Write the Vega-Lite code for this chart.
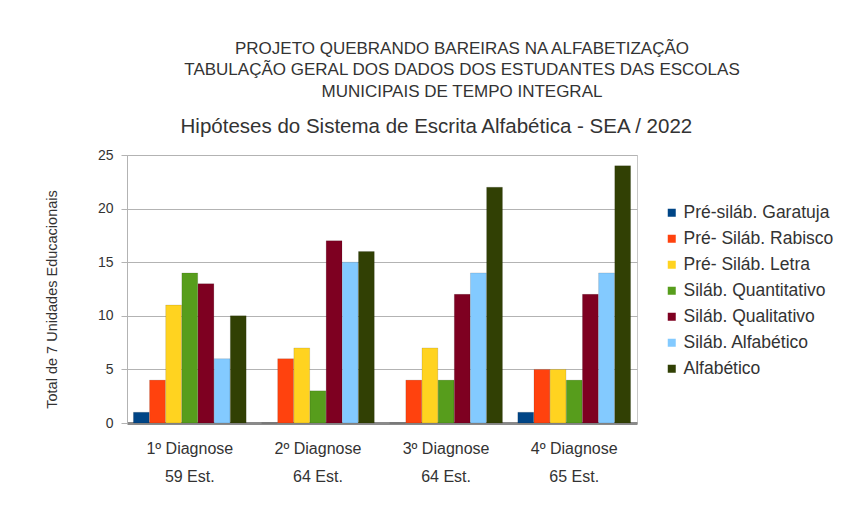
{
  "$schema": "https://vega.github.io/schema/vega-lite/v6.json",
  "autosize": "none",
  "width": 510,
  "height": 268,
  "padding": {"left": 127, "top": 155, "right": 225, "bottom": 92},
  "background": "white",
  "title": {
    "text": ["PROJETO QUEBRANDO BAREIRAS NA ALFABETIZAÇÃO", "TABULAÇÃO GERAL DOS DADOS DOS ESTUDANTES DAS ESCOLAS", "MUNICIPAIS DE TEMPO INTEGRAL"],
    "subtitle": "Hipóteses do Sistema de Escrita Alfabética - SEA / 2022\u00a0\u00a0\u00a0\u00a0\u00a0\u00a0\u00a0\u00a0\u00a0\u200b",
    "anchor": "middle",
    "dx": 80,
    "offset": 10,
    "font": "Liberation Sans",
    "fontSize": 17,
    "fontWeight": "normal",
    "color": "#333333",
    "lineHeight": 21.5,
    "subtitleFont": "Liberation Sans",
    "subtitleFontSize": 20.5,
    "subtitleColor": "#333333",
    "subtitlePadding": 16
  },
  "data": {
    "values": [
      {"g": "1º Diagnose|59 Est.", "s": "Pré-siláb. Garatuja", "v": 1},
      {"g": "1º Diagnose|59 Est.", "s": "Pré- Siláb. Rabisco", "v": 4},
      {"g": "1º Diagnose|59 Est.", "s": "Pré- Siláb. Letra", "v": 11},
      {"g": "1º Diagnose|59 Est.", "s": "Siláb. Quantitativo", "v": 14},
      {"g": "1º Diagnose|59 Est.", "s": "Siláb. Qualitativo", "v": 13},
      {"g": "1º Diagnose|59 Est.", "s": "Siláb. Alfabético", "v": 6},
      {"g": "1º Diagnose|59 Est.", "s": "Alfabético", "v": 10},
      {"g": "2º Diagnose|64 Est.", "s": "Pré-siláb. Garatuja", "v": 0},
      {"g": "2º Diagnose|64 Est.", "s": "Pré- Siláb. Rabisco", "v": 6},
      {"g": "2º Diagnose|64 Est.", "s": "Pré- Siláb. Letra", "v": 7},
      {"g": "2º Diagnose|64 Est.", "s": "Siláb. Quantitativo", "v": 3},
      {"g": "2º Diagnose|64 Est.", "s": "Siláb. Qualitativo", "v": 17},
      {"g": "2º Diagnose|64 Est.", "s": "Siláb. Alfabético", "v": 15},
      {"g": "2º Diagnose|64 Est.", "s": "Alfabético", "v": 16},
      {"g": "3º Diagnose|64 Est.", "s": "Pré-siláb. Garatuja", "v": 0},
      {"g": "3º Diagnose|64 Est.", "s": "Pré- Siláb. Rabisco", "v": 4},
      {"g": "3º Diagnose|64 Est.", "s": "Pré- Siláb. Letra", "v": 7},
      {"g": "3º Diagnose|64 Est.", "s": "Siláb. Quantitativo", "v": 4},
      {"g": "3º Diagnose|64 Est.", "s": "Siláb. Qualitativo", "v": 12},
      {"g": "3º Diagnose|64 Est.", "s": "Siláb. Alfabético", "v": 14},
      {"g": "3º Diagnose|64 Est.", "s": "Alfabético", "v": 22},
      {"g": "4º Diagnose|65 Est.", "s": "Pré-siláb. Garatuja", "v": 1},
      {"g": "4º Diagnose|65 Est.", "s": "Pré- Siláb. Rabisco", "v": 5},
      {"g": "4º Diagnose|65 Est.", "s": "Pré- Siláb. Letra", "v": 5},
      {"g": "4º Diagnose|65 Est.", "s": "Siláb. Quantitativo", "v": 4},
      {"g": "4º Diagnose|65 Est.", "s": "Siláb. Qualitativo", "v": 12},
      {"g": "4º Diagnose|65 Est.", "s": "Siláb. Alfabético", "v": 14},
      {"g": "4º Diagnose|65 Est.", "s": "Alfabético", "v": 24}
    ]
  },
  "mark": {"type": "bar", "stroke": "#000000", "strokeOpacity": 0.15, "strokeWidth": 0.8},
  "encoding": {
    "x": {
      "field": "g",
      "type": "nominal",
      "sort": null,
      "scale": {"paddingInner": 0.12, "paddingOuter": 0.05},
      "axis": {
        "title": null,
        "labelAngle": 0,
        "labelExpr": "split(datum.label, '|')",
        "labelFont": "Liberation Sans",
        "labelFontSize": 16,
        "labelColor": "#333333",
        "labelLineHeight": 28,
        "labelPadding": 17,
        "ticks": false,
        "domainColor": "#8a8a8a",
        "domainWidth": 3
      }
    },
    "xOffset": {
      "field": "s",
      "type": "nominal",
      "sort": ["Pré-siláb. Garatuja", "Pré- Siláb. Rabisco", "Pré- Siláb. Letra", "Siláb. Quantitativo", "Siláb. Qualitativo", "Siláb. Alfabético", "Alfabético"],
      "scale": {"paddingInner": 0.02}
    },
    "y": {
      "field": "v",
      "type": "quantitative",
      "scale": {"domain": [0, 25]},
      "axis": {
        "title": "Total de 7 Unidades Educacionais",
        "titleFont": "Liberation Sans",
        "titleFontSize": 14.5,
        "titleFontWeight": "normal",
        "titleColor": "#333333",
        "titlePadding": 38,
        "titleY": 144,
        "values": [0, 5, 10, 15, 20, 25],
        "labelFont": "Liberation Sans",
        "labelFontSize": 14,
        "labelColor": "#333333",
        "labelPadding": 8,
        "tickSize": 6,
        "tickColor": "#b3b3b3",
        "domainColor": "#b3b3b3",
        "gridColor": "#b3b3b3"
      }
    },
    "color": {
      "field": "s",
      "type": "nominal",
      "sort": ["Pré-siláb. Garatuja", "Pré- Siláb. Rabisco", "Pré- Siláb. Letra", "Siláb. Quantitativo", "Siláb. Qualitativo", "Siláb. Alfabético", "Alfabético"],
      "scale": {
        "domain": ["Pré-siláb. Garatuja", "Pré- Siláb. Rabisco", "Pré- Siláb. Letra", "Siláb. Quantitativo", "Siláb. Qualitativo", "Siláb. Alfabético", "Alfabético"],
        "range": ["#004586", "#ff420e", "#ffd320", "#579d1c", "#7e0021", "#83caff", "#314004"]
      },
      "legend": {
        "title": null,
        "orient": "none",
        "legendX": 536,
        "legendY": 49,
        "symbolType": "square",
        "symbolSize": 64,
        "symbolStrokeWidth": 0,
        "labelFont": "Liberation Sans",
        "labelFontSize": 17.5,
        "labelColor": "#333333",
        "rowPadding": 7,
        "labelOffset": 3,
        "labelLimit": 250
      }
    }
  },
  "config": {
    "view": {"stroke": "#c8c8c8"}
  }
}
